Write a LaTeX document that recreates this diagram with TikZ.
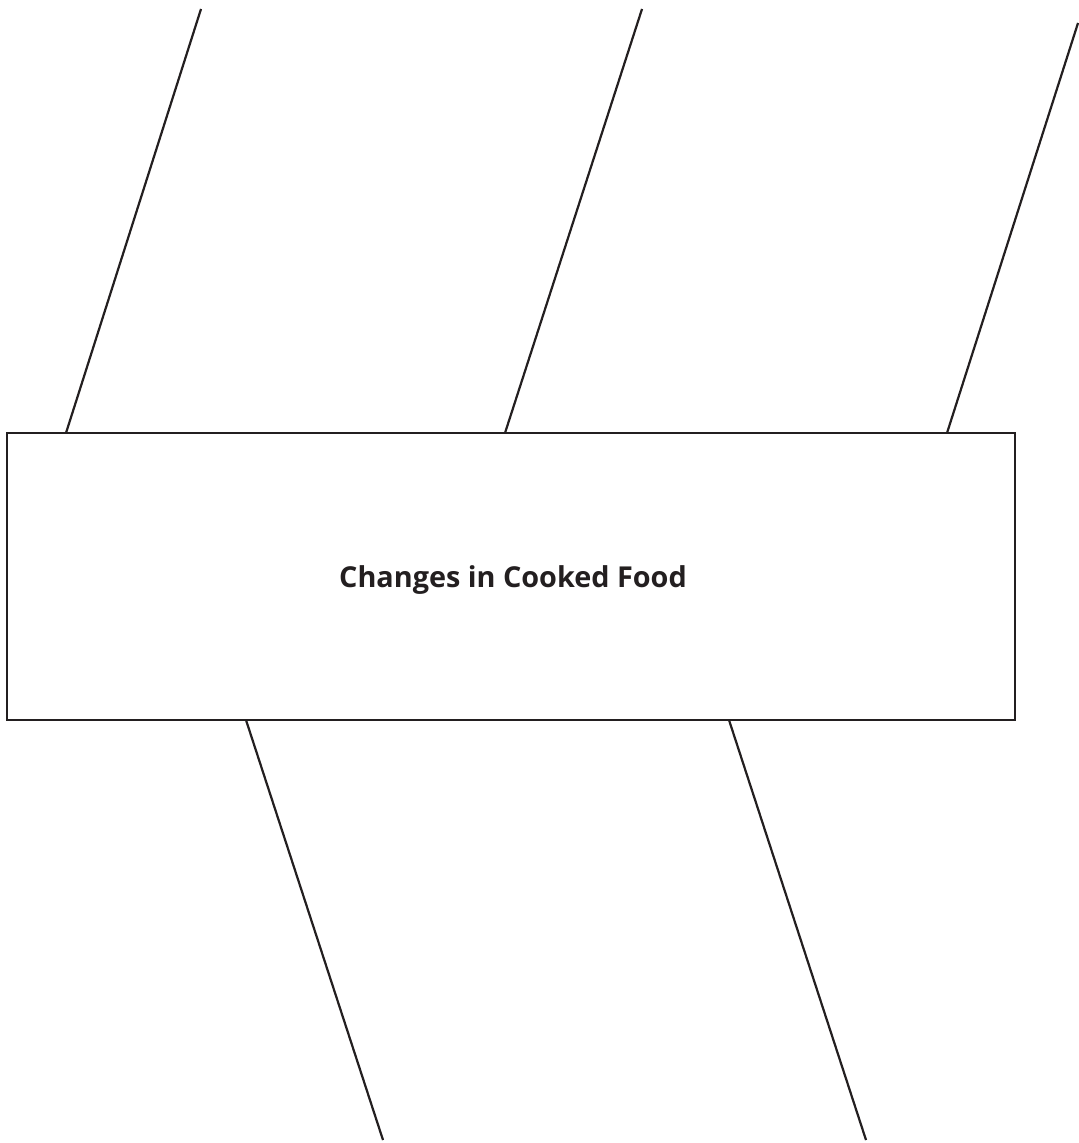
\documentclass[tikz,border=0pt]{standalone}
\usepackage{fontspec}
\setmainfont{Open Sans}
\usepackage{xcolor}
\usetikzlibrary{calc,positioning}
\definecolor{inkgray}{HTML}{231F20}
\tikzset{bone/.style={draw=inkgray,line width=1.1pt},
  headbox/.style={draw=inkgray,line width=0.75pt,minimum width=504pt,minimum height=143.5pt,inner sep=0pt,
    font=\bfseries\fontsize{14.4}{17}\selectfont,text=inkgray}}
\begin{document}
\begin{tikzpicture}[x=0.5pt,y=-0.5pt]
\useasboundingbox (0,0) rectangle (1078,1143);
\node[headbox] (food) at (511,576.5){\hspace*{2pt}\raisebox{-5.5pt}[0pt][0pt]{Changes in Cooked Food}};
% upper bones
\coordinate (u1) at (66,433);  \coordinate (u1e) at (201,9);
\coordinate (u2) at (505,433); \coordinate (u2e) at (642,9);
\coordinate (u3) at (947,433); \coordinate (u3e) at (1078,23);
% lower bones
\coordinate (l1) at (246,720); \coordinate (l1e) at (383,1140);
\coordinate (l2) at (729,720); \coordinate (l2e) at (866,1140);
\foreach \a/\b in {u1/u1e,u2/u2e,u3/u3e,l1/l1e,l2/l2e}{\draw[bone] (\a)--(\b);}
\end{tikzpicture}
\end{document}
